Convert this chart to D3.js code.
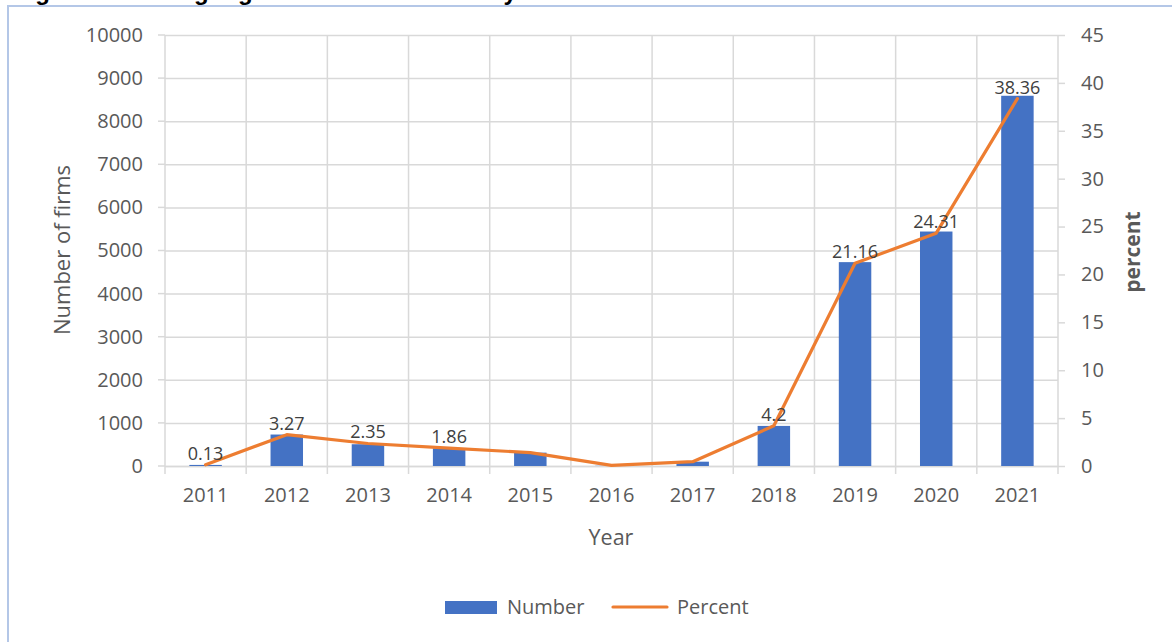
<!DOCTYPE html>
<html>
<head>
<meta charset="utf-8">
<script src="https://cdn.jsdelivr.net/npm/d3@7"></script>
<style>
  body { margin: 0; background: #fff; }
  svg { display: block; font-family: "Open Sans", sans-serif; }
</style>
</head>
<body>
<script>
// data
const years = ["2011","2012","2013","2014","2015","2016","2017","2018","2019","2020","2021"];
const numbers = [25, 730, 505, 410, 310, 5, 100, 930, 4730, 5440, 8590];
const percents = [0.13, 3.27, 2.35, 1.86, 1.4, 0.06, 0.45, 4.2, 21.16, 24.31, 38.36];
const pctLabels = ["0.13","3.27","2.35","1.86","","","","4.2","21.16","24.31","38.36"];
const leftTicks = [0,1000,2000,3000,4000,5000,6000,7000,8000,9000,10000];
const rightTicks = [0,5,10,15,20,25,30,35,40,45];

const w = 1172, h = 642;
const pLeft = 165, pRight = 1058, pTop = 35, pBottom = 466;
const grid = "#d9d9d9", txt = "#595959";

const svg = d3.select("body").append("svg")
  .attr("width", w)
  .attr("height", h);

// caption, mostly cut off at the top of the picture
svg.append("text")
  .attr("x", 14)
  .attr("y", 0)
  .attr("font-family", "Liberation Sans, Arial, sans-serif")
  .attr("font-weight", "bold")
  .attr("font-size", 24)
  .attr("fill", "#000")
  .text("Figure 1: Trading registered firms over the years");

// chart frame
svg.append("rect")
  .attr("x", 8).attr("y", 6)
  .attr("width", w + 20).attr("height", h + 20)
  .attr("fill", "#fff")
  .attr("stroke", "#b4c7e7")
  .attr("stroke-width", 2);

const xScale = d3.scaleBand().domain(years).range([pLeft, pRight]).padding(0);
const yScale = d3.scaleLinear().domain([0, 10000]).range([pBottom, pTop]);
const y2Scale = d3.scaleLinear().domain([0, 45]).range([pBottom, pTop]);

// horizontal gridlines + left axis
const yAxis = d3.axisLeft(yScale).tickValues(leftTicks).tickFormat(d3.format("d"))
  .tickSize(-(pRight - pLeft)).tickPadding(22);
const gy = svg.append("g").attr("transform", "translate(" + pLeft + ",0)").call(yAxis);
gy.select(".domain").remove();
gy.selectAll("line").attr("stroke", grid).attr("stroke-width", 1.5);
gy.selectAll("text").attr("fill", txt).attr("font-size", 20).attr("font-family", "Open Sans");
// little outer ticks on the left
svg.append("g").selectAll("line").data(leftTicks).enter().append("line")
  .attr("x1", pLeft - 7).attr("x2", pLeft)
  .attr("y1", d => yScale(d)).attr("y2", d => yScale(d))
  .attr("stroke", grid).attr("stroke-width", 1.5);

// right axis
const y2Axis = d3.axisRight(y2Scale).tickValues(rightTicks).tickSize(7).tickPadding(16);
const gy2 = svg.append("g").attr("transform", "translate(" + pRight + ",0)").call(y2Axis);
gy2.select(".domain").remove();
gy2.selectAll("line").attr("stroke", grid).attr("stroke-width", 1.5);
gy2.selectAll("text").attr("fill", txt).attr("font-size", 20).attr("font-family", "Open Sans");

// vertical gridlines at category boundaries
const bounds = years.map(d => xScale(d)).concat([pRight]);
svg.append("g").selectAll("line").data(bounds).enter().append("line")
  .attr("x1", d => d).attr("x2", d => d)
  .attr("y1", pTop).attr("y2", pBottom + 8)
  .attr("stroke", grid).attr("stroke-width", 1.5);

// x axis labels
const xAxis = d3.axisBottom(xScale).tickSize(0).tickPadding(22);
const gx = svg.append("g").attr("transform", "translate(0," + pBottom + ")").call(xAxis);
gx.select(".domain").attr("stroke", grid).attr("stroke-width", 1.5);
gx.selectAll("text").attr("fill", txt).attr("font-size", 20).attr("font-family", "Open Sans");

// bars
const bw = xScale.bandwidth() * 0.4;
svg.selectAll(".bar")
  .data(numbers)
  .enter()
  .append("rect")
  .attr("class", "bar")
  .attr("x", (d, i) => xScale(years[i]) + xScale.bandwidth() / 2 - bw / 2)
  .attr("y", d => yScale(d))
  .attr("width", bw)
  .attr("height", d => yScale(0) - yScale(d))
  .attr("fill", "#4472c4");

// percent line
const line = d3.line()
  .x((d, i) => xScale(years[i]) + xScale.bandwidth() / 2)
  .y(d => y2Scale(d));
svg.append("path")
  .datum(percents)
  .attr("d", line)
  .attr("fill", "none")
  .attr("stroke", "#ed7d31")
  .attr("stroke-width", 3.2)
  .attr("stroke-linejoin", "round")
  .attr("stroke-linecap", "round");

// data labels
svg.selectAll(".lbl")
  .data(percents)
  .enter()
  .append("text")
  .attr("class", "lbl")
  .attr("x", (d, i) => xScale(years[i]) + xScale.bandwidth() / 2)
  .attr("y", d => y2Scale(d) - 5)
  .attr("text-anchor", "middle")
  .attr("font-size", 18)
  .attr("fill", "#404040")
  .text((d, i) => pctLabels[i]);

// axis titles
svg.append("text")
  .attr("x", 611).attr("y", 545)
  .attr("text-anchor", "middle")
  .attr("font-size", 21.5)
  .attr("fill", txt)
  .text("Year");

svg.append("text")
  .attr("transform", "translate(70,250) rotate(-90)")
  .attr("text-anchor", "middle")
  .attr("font-size", 22)
  .attr("fill", txt)
  .text("Number of firms");

svg.append("text")
  .attr("transform", "translate(1140,252) rotate(-90)")
  .attr("text-anchor", "middle")
  .attr("font-size", 21)
  .attr("font-weight", "bold")
  .attr("fill", txt)
  .text("percent");

// legend
const lg = svg.append("g");
lg.append("rect")
  .attr("x", 445).attr("y", 601)
  .attr("width", 52).attr("height", 13)
  .attr("fill", "#4472c4");
lg.append("text")
  .attr("x", 507).attr("y", 614)
  .attr("font-size", 20)
  .attr("fill", txt)
  .text("Number");
lg.append("line")
  .attr("x1", 613).attr("x2", 667)
  .attr("y1", 607).attr("y2", 607)
  .attr("stroke", "#ed7d31")
  .attr("stroke-width", 3.2)
  .attr("stroke-linecap", "round");
lg.append("text")
  .attr("x", 677).attr("y", 614)
  .attr("font-size", 20)
  .attr("fill", txt)
  .text("Percent");
</script>
</body>
</html>
